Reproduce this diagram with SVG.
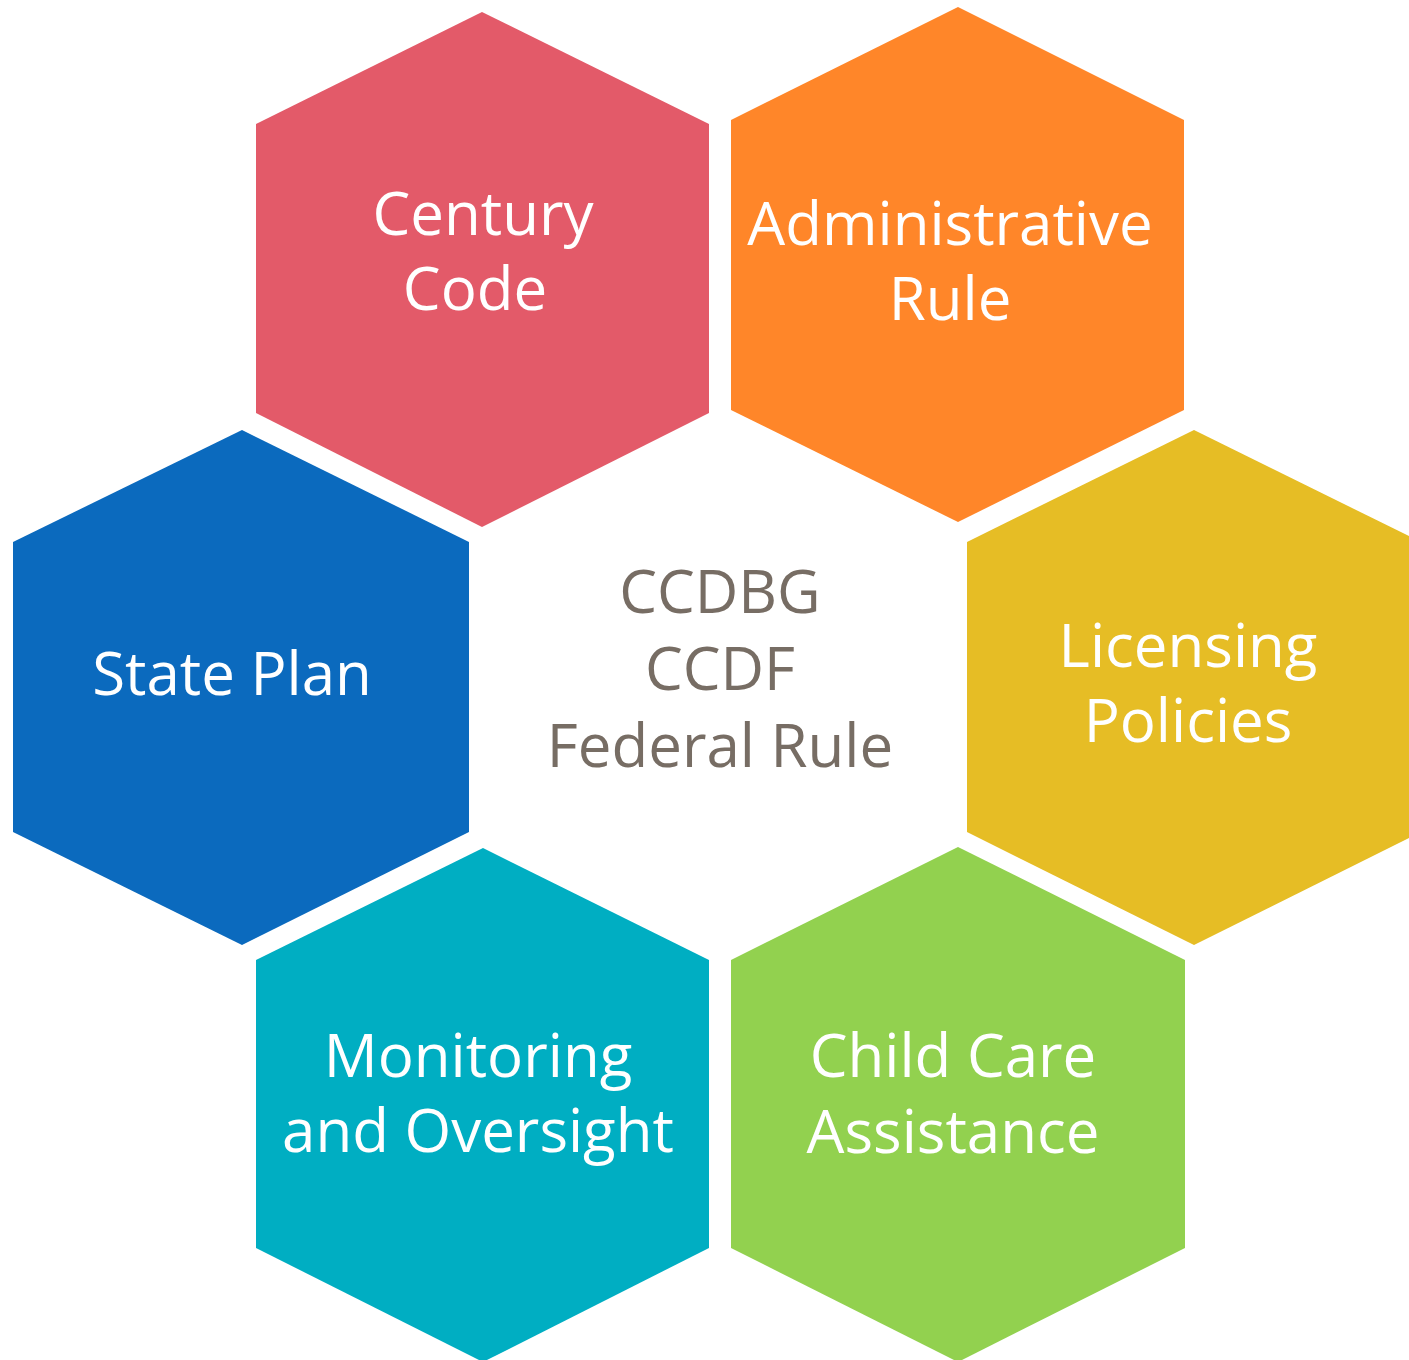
<svg xmlns="http://www.w3.org/2000/svg" width="1409" height="1360" viewBox="0 0 1409 1360">
<style>
.t{font-family:"Segoe UI","Open Sans","Noto Sans",sans-serif;font-size:60px;fill:#ffffff;text-anchor:middle}
.c{fill:#776D64}
</style>
<rect width="1409" height="1360" fill="#ffffff"/>
<g id="century-code">
<polygon points="482,12 709,124 709,413 482,527 256,413 256,124" fill="#E35A69"/>
<text class="t" x="483" y="235">Century</text>
<text class="t" x="475" y="310">Code</text>
</g>
<g id="administrative-rule">
<polygon points="958,7 1184,120 1184,410 958,522 731,410 731,120" fill="#FF8629"/>
<text class="t" x="950" y="245">Administrative</text>
<text class="t" x="950" y="320">Rule</text>
</g>
<g id="state-plan">
<polygon points="242,430 469,542 469,832 242,945 13,832 13,542" fill="#0B6ABE"/>
<text class="t" x="232" y="695">State Plan</text>
</g>
<g id="licensing-policies">
<polygon points="1194,430 1421,542 1421,832 1194,945 967,832 967,542" fill="#E6BD25"/>
<text class="t" x="1188" y="667">Licensing</text>
<text class="t" x="1188" y="742">Policies</text>
</g>
<g id="federal">
<text class="t c" x="720" y="613">CCDBG</text>
<text class="t c" x="720" y="690">CCDF</text>
<text class="t c" x="720" y="767">Federal Rule</text>
</g>
<g id="monitoring">
<polygon points="483,848 709,960 709,1248 483,1362 256,1248 256,960" fill="#00AEC2"/>
<text class="t" x="478" y="1077">Monitoring</text>
<text class="t" x="478" y="1152">and Oversight</text>
</g>
<g id="child-care-assistance">
<polygon points="958,847 1185,960 1185,1248 958,1362 731,1248 731,960" fill="#92D14F"/>
<text class="t" x="953" y="1077">Child Care</text>
<text class="t" x="953" y="1153">Assistance</text>
</g>
<g id="connectors"></g>
</svg>
